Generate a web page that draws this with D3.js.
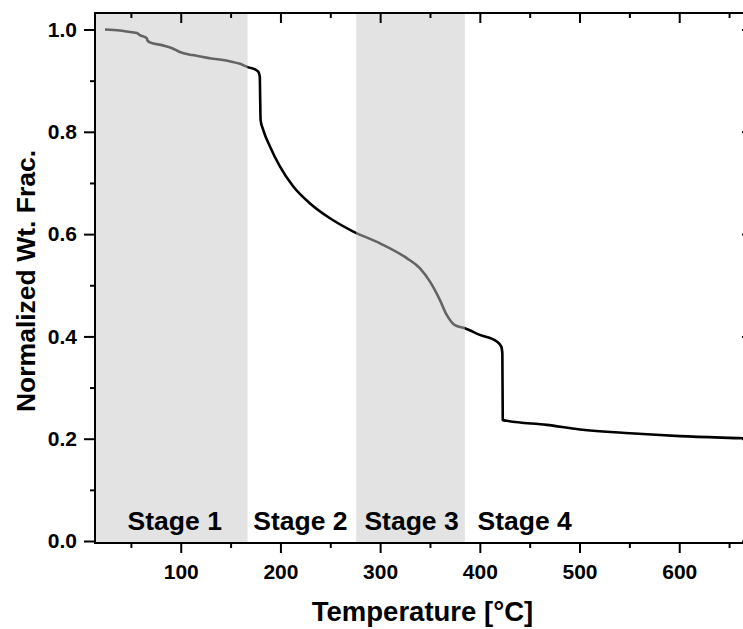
<!DOCTYPE html>
<html>
<head>
<meta charset="utf-8">
<script src="https://cdn.jsdelivr.net/npm/d3@7"></script>
<style>
	body{margin:0;background:#fff;}
	svg{display:block;font-family:"Liberation Sans",Arial,sans-serif;font-weight:bold;}
</style>
</head>
<body>
<svg width="743" height="629"></svg>
<script>
(()=>{

//data
let temps = [24, 39, 46, 56, 59, 66, 66.5, 69, 82, 92, 99, 112, 129, 149, 159.5, 167.8, 174.5, 177.8, 179.3, 179.7, 180.1, 182.8, 189.6, 199.6, 212.9, 229.7, 249.7, 273.1, 299.9, 326.7, 340, 350, 360, 366.8, 375, 385, 400, 417, 421.5, 422.6, 423, 427, 467, 500.5, 550.7, 600.8, 664, 673];
let wtfrac = [1.0, 0.998, 0.996, 0.993, 0.989, 0.983, 0.979, 0.975, 0.969, 0.963, 0.956, 0.950, 0.944, 0.938, 0.933, 0.926, 0.922, 0.9175, 0.908, 0.862, 0.823, 0.8035, 0.771, 0.732, 0.693, 0.660, 0.631, 0.605, 0.582, 0.553, 0.533, 0.507, 0.471, 0.442, 0.422, 0.416, 0.403, 0.390, 0.380, 0.367, 0.2366, 0.235, 0.227, 0.218, 0.2106, 0.205, 0.2008, 0.2002];

//shaded stages (temperature ranges)
let bandStart = [14, 276];
let bandEnd = [167, 385];

//stage labels, centred on a temperature
let stageNames = ["Stage 1", "Stage 2", "Stage 3", "Stage 4"];
let stageCentres = [94, 220, 331.5, 445];

//ticks
let xMajor = [100, 200, 300, 400, 500, 600];
let xMinor = [50, 150, 250, 350, 450, 550, 650];
let yMajor = [0.0, 0.2, 0.4, 0.6, 0.8, 1.0];
let yMinor = [0.1, 0.3, 0.5, 0.7, 0.9];

let svg = d3.select("svg");

//plot box (right edge falls outside the picture, as in the original)
let left = 95, right = 752, top = 13, bottom = 543;

let x = d3.scaleLinear().domain([14, 673]).range([left, right]);
let y = d3.scaleLinear().domain([-0.0039, 1.0323]).range([bottom, top]);

let points = temps.map((t, i) => ({t:t, v:wtfrac[i]}));

//curve
let line = d3.line()
	.x(d => x(d.t))
	.y(d => y(d.v))
	.curve(d3.curveMonotoneX);

svg.append("path")
	.datum(points)
	.attr("d", line)
	.attr("fill", "none")
	.attr("stroke", "#000")
	.attr("stroke-width", 2.6)
	.attr("stroke-linejoin", "round");

//grey bands go over the curve so it shows through lighter
svg.selectAll(".band")
	.data(bandStart)
	.enter().append("rect")
	.attr("class", "band")
	.attr("x", (d, i) => x(d))
	.attr("y", top)
	.attr("width", (d, i) => x(bandEnd[i]) - x(d))
	.attr("height", bottom - top)
	.attr("fill", "#c8c8c8")
	.attr("fill-opacity", 0.5);

//stage labels
svg.selectAll(".stage")
	.data(stageNames)
	.enter().append("text")
	.attr("class", "stage")
	.attr("x", (d, i) => x(stageCentres[i]))
	.attr("y", 530)
	.attr("text-anchor", "middle")
	.attr("font-size", 26.5)
	.text(d => d);

//axes
function styleAxis(g){
	g.select(".domain").remove();
	g.selectAll("line").attr("stroke", "#000").attr("stroke-width", 2);
	g.selectAll("text").attr("font-size", 21).attr("fill", "#000").attr("font-family", null);
}

//bottom
svg.append("g")
	.attr("transform", `translate(0,${bottom})`)
	.call(d3.axisBottom(x).tickValues(xMajor).tickSize(10).tickPadding(11).tickFormat(d3.format("d")))
	.call(styleAxis);
svg.append("g")
	.attr("transform", `translate(0,${bottom})`)
	.call(d3.axisBottom(x).tickValues(xMinor).tickSize(5).tickFormat(""))
	.call(styleAxis);

//top (inward, no labels)
svg.append("g")
	.attr("transform", `translate(0,${top})`)
	.call(d3.axisBottom(x).tickValues(xMajor).tickSize(10).tickFormat(""))
	.call(styleAxis);
svg.append("g")
	.attr("transform", `translate(0,${top})`)
	.call(d3.axisBottom(x).tickValues(xMinor).tickSize(5).tickFormat(""))
	.call(styleAxis);

//left
svg.append("g")
	.attr("transform", `translate(${left},0)`)
	.call(d3.axisLeft(y).tickValues(yMajor).tickSize(11).tickPadding(7).tickFormat(d3.format(".1f")))
	.call(styleAxis);
svg.append("g")
	.attr("transform", `translate(${left},0)`)
	.call(d3.axisLeft(y).tickValues(yMinor).tickSize(5).tickFormat(""))
	.call(styleAxis);

//right (inward, mostly cut off)
svg.append("g")
	.attr("transform", `translate(${right},0)`)
	.call(d3.axisLeft(y).tickValues(yMajor).tickSize(10).tickFormat(""))
	.call(styleAxis);

//frame
svg.append("rect")
	.attr("x", left)
	.attr("y", top)
	.attr("width", right - left)
	.attr("height", bottom - top)
	.attr("fill", "none")
	.attr("stroke", "#000")
	.attr("stroke-width", 2);

//axis titles
svg.append("text")
	.attr("x", (left + right) / 2 - 1)
	.attr("y", 621)
	.attr("text-anchor", "middle")
	.attr("font-size", 27.5)
	.text("Temperature [°C]");

svg.append("text")
	.attr("transform", `translate(35,${(top + bottom) / 2 + 3}) rotate(-90)`)
	.attr("text-anchor", "middle")
	.attr("font-size", 26.5)
	.text("Normalized Wt. Frac.");

})();
</script>
</body>
</html>
